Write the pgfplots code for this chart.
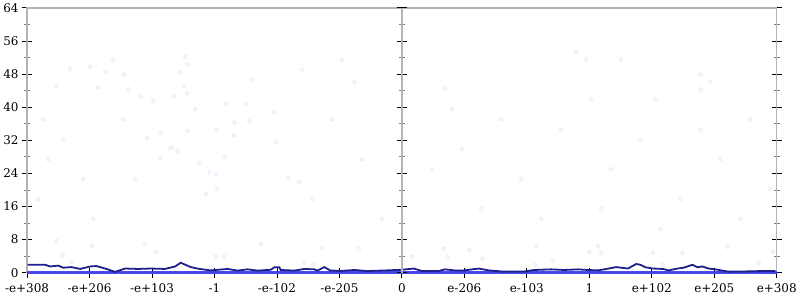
\documentclass[border=0pt]{standalone}
\usepackage{pgfplots}
\pgfplotsset{compat=1.18}
\usepackage{fontspec}
\setmainfont{DejaVu Serif}
\definecolor{frame}{RGB}{180,180,180}
\definecolor{dens}{RGB}{30,30,140}
\definecolor{band}{RGB}{55,55,230}
\definecolor{dot}{RGB}{243,243,252}
\definecolor{dotedge}{RGB}{232,232,249}
\begin{document}
\begin{tikzpicture}
\pgfplotsset{common/.style={scale only axis, width=753pt, height=266pt,
  xmin=-6, xmax=6, ymin=0, ymax=64, tick align=center,
  major tick length=10pt, minor tick length=6pt,
  major tick style={black, line width=0.8pt},
  minor tick style={gray, line width=0.8pt},
  ytick={0,8,...,64}, minor y tick num=1,
  ticklabel style={font=\fontsize{12}{14}\selectfont},
  /pgf/number format/assume math mode=true}}
\begin{axis}[common,
  axis line style={frame, line width=1.5pt},
  ytick pos=both, xtick pos=bottom,
  xtick={-6,...,6},
  xticklabels={-e+308,-e+206,-e+103,-1,-e-102,-e-205,0,e-206,e-103,1,e+102,e+205,e+308},
  xticklabel style={yshift=-2pt},
  clip=false]
\addplot[only marks, mark=*, mark size=2pt, mark options={fill=dot, draw=dotedge, line width=0.3pt}] coordinates {
(-3.98,41.4) (-3.31,39.5) (-2.82,40.9) (-2.49,40.7) (-2.04,38.7) (-2.68,36.3) (-2.44,36.6)
(-3.86,33.7) (-3.43,34.2) (-2.96,34.6) (-2.69,33.2) (-4.08,32.5) (-2.01,31.5) (-3.71,30.1)
(-3.68,30.3) (-3.59,29.4) (-3.87,27.7) (-2.84,27.9) (-3.24,26.5) (-3.08,24.3) (-2.98,23.8)
(-4.27,22.6) (-1.82,22.9) (-1.64,21.9) (-2.96,20.2) (-3.14,19.0) (-5.53,45.0) (-5.31,49.3)
(-4.99,49.8) (-4.86,44.8) (-4.75,48.6) (-4.45,47.9) (-4.37,44.3) (-4.18,42.6) (-3.65,42.6)
(-3.47,52.2) (-3.43,50.3) (-3.55,48.4) (-3.49,45.0) (-3.44,43.3) (-5.53,7.7) (-5.43,4.3)
(-5.29,2.6) (-4.96,6.5) (-4.11,7.0) (-3.94,5.1) (-2.26,7.0) (-2.98,3.85) (-2.84,3.85)
(-1.29,6.0) (-1.56,2.4) (-1.42,1.9) (-0.69,5.8) (0.16,3.85) (0.67,5.8) (0.73,3.85)
(1.08,5.5) (1.29,3.4) (2.15,6.5) (2.14,1.9) (2.42,2.9) (3.00,5.1) (3.14,6.5) (4.02,4.8)
(4.18,1.9) (4.49,4.8) (5.20,6.3) (5.71,2.4) (5.94,5.1) (3.19,4.8) (-0.76,46.0) (0.69,44.5)
(4.78,47.9) (4.94,46.2) (4.78,44.3) (0.96,29.8) (1.59,37.1) (1.91,22.6) (2.55,34.6)
(3.35,25.0) (3.82,32.2) (4.46,17.8) (5.10,27.4) (5.58,37.1) (5.90,20.2) (1.27,15.4)
(2.23,13.0) (3.19,15.4) (4.14,10.6) (4.78,34.6) (5.42,13.0) (0.48,25.0) (0.80,39.5)
(3.03,41.9) (3.51,51.5) (2.79,53.4) (2.95,51.5) (4.06,41.9) (-1.12,37.1) (-0.64,27.4)
(-1.43,17.8) (-0.32,13.0) (-0.96,51.5) (-5.74,37.1) (-5.66,27.4) (-5.82,17.8) (-5.42,32.2)
(-5.10,22.6) (-4.94,13.0) (-4.46,37.1) (-4.62,51.5) (-1.59,49.1) (-2.39,46.7)
};
\addplot[band, line width=3.2pt, opacity=0.9] coordinates {(-6,0.1) (6,0.1)};
\addplot[dens, line width=1.8pt] coordinates {
(-5.99,1.9) (-5.71,1.9) (-5.63,1.5) (-5.50,1.7) (-5.42,1.2) (-5.29,1.35) (-5.15,0.9)
(-4.99,1.5) (-4.89,1.6) (-4.75,1.0) (-4.59,0.2) (-4.43,1.0) (-4.22,0.9) (-4.02,1.0)
(-3.79,0.9) (-3.63,1.5) (-3.54,2.4) (-3.38,1.35) (-3.24,0.9) (-3.06,0.55) (-2.79,0.9)
(-2.63,0.5) (-2.47,0.8) (-2.31,0.5) (-2.10,0.7) (-2.04,1.3) (-1.96,1.3) (-1.94,0.65)
(-1.72,0.5) (-1.56,0.9) (-1.40,0.8) (-1.35,0.5) (-1.24,1.35) (-1.15,0.55) (-0.99,0.4)
(-0.76,0.65) (-0.56,0.4) (-0.24,0.55) (0,0.7) (0.19,1.0) (0.32,0.4) (0.59,0.4) (0.69,0.8)
(0.84,0.55) (1.00,0.55) (1.23,1.0) (1.39,0.55) (1.59,0.3) (1.96,0.3) (2.12,0.65) (2.39,0.8)
(2.60,0.65) (2.82,0.8) (2.98,0.65) (3.14,0.55) (3.31,1.0) (3.43,1.35) (3.51,1.2) (3.62,1.0)
(3.75,2.1) (3.82,1.9) (3.90,1.3) (4.02,1.0) (4.18,0.9) (4.27,0.55) (4.41,1.0) (4.51,1.2)
(4.65,1.9) (4.73,1.3) (4.81,1.5) (4.91,1.0) (5.02,0.8) (5.13,0.5) (5.23,0.25) (5.50,0.3)
(5.77,0.4) (5.98,0.4)
};
\end{axis}
\begin{axis}[common, axis x line=none, axis y line=middle,
  axis line style={frame, line width=1.5pt, -},
  yticklabels={}]
\end{axis}
\end{tikzpicture}
\end{document}
